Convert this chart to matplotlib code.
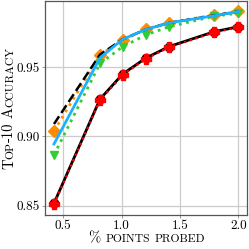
import matplotlib
matplotlib.use('Agg')
import matplotlib.pyplot as plt

plt.rcParams['font.family'] = ['cmr10', 'DejaVu Serif']
plt.rcParams['mathtext.fontset'] = 'cm'
plt.rcParams['axes.unicode_minus'] = False
plt.rcParams['axes.formatter.use_mathtext'] = True

# data
x = [0.42, 0.815, 1.01, 1.205, 1.405, 1.795, 2.0]
black_solid = [0.8517, 0.9269, 0.9450, 0.9563, 0.9647, 0.9755, 0.9790]
red_dotted = [0.8510, 0.9262, 0.9443, 0.9558, 0.9642, 0.9750, 0.9787]
orange_dotted = [0.9039, 0.9587, 0.9695, 0.9772, 0.9820, 0.9875, 0.9904]
black_dashed = [0.9089, 0.9590, 0.9700, 0.9770, 0.9818, 0.9872, 0.9900]
cyan_solid = [0.8945, 0.9567, 0.9700, 0.9770, 0.9818, 0.9870, 0.9900]
green_dotted = [0.8866, 0.9526, 0.9647, 0.9730, 0.9790, 0.9867, 0.9887]

xticks = [0.5, 1.0, 1.5, 2.0]
yticks = [0.85, 0.90, 0.95]

fig = plt.figure(figsize=(2.49, 2.49), dpi=100)
ax = fig.add_axes([45 / 249, 34 / 249, 202 / 249, 214 / 249])

ax.plot(x, black_solid, '-', color='black', lw=2, marker='o', ms=6, zorder=3)
ax.plot(x, red_dotted, ':', color='red', lw=1.6, marker='P', ms=7, zorder=4)
ax.plot(x, orange_dotted, ':', color='#ff8c00', lw=2, marker='D', ms=6, zorder=3)
ax.plot(x, black_dashed, '--', color='black', lw=1.8, zorder=4)
ax.plot(x, green_dotted, ':', color='#33cc33', lw=2, marker='v', ms=6, zorder=3)
ax.plot(x, cyan_solid, '-', color='#1ab2ff', lw=2, zorder=5)

ax.set_xlim(0.343, 2.075)
ax.set_ylim(0.8433, 0.9976)
ax.set_xticks(xticks)
ax.set_yticks(yticks)
ax.set_xticklabels(['%.1f' % v for v in xticks])
ax.set_yticklabels(['%.2f' % v for v in yticks])
ax.tick_params(labelsize=9.5, length=2, width=0.6, color='#888888', pad=1.5)
ax.grid(True, color='#cccccc', lw=0.9)
ax.set_axisbelow(True)
for s in ax.spines.values():
    s.set_color('#555555')
    s.set_linewidth(0.9)


def small_caps(parts, center, base, vertical):
    # parts: (text, fontsize) pieces on one baseline, or a number = gap in px
    r = fig.canvas.get_renderer()
    W, H = fig.canvas.get_width_height()
    widths = []
    for p in parts:
        if isinstance(p, (int, float)):
            widths.append(p)
            continue
        t = fig.text(0, 0, p[0], fontsize=p[1])
        widths.append(t.get_window_extent(r).width)
        t.remove()
    pos = center - sum(widths) / 2
    for p, w in zip(parts, widths):
        if not isinstance(p, (int, float)):
            if vertical:
                fig.text(base / W, pos / H, p[0], fontsize=p[1], rotation=90,
                         rotation_mode='anchor', ha='left', va='baseline')
            else:
                fig.text(pos / W, base / H, p[0], fontsize=p[1],
                         ha='left', va='baseline')
        pos += w


big, small = 10.5, 8.4
small_caps([('%', big), 5, ('POINTS', small), 4.5, ('PROBED', small)],
           146.5, 249 - 242, vertical=False)
small_caps([('T', big), ('OP', small), ('-10', big), 4.5,
            ('A', big), ('CCURACY', small)], 249 - 108, 13, vertical=True)

fig.savefig('out.png', dpi=100)
